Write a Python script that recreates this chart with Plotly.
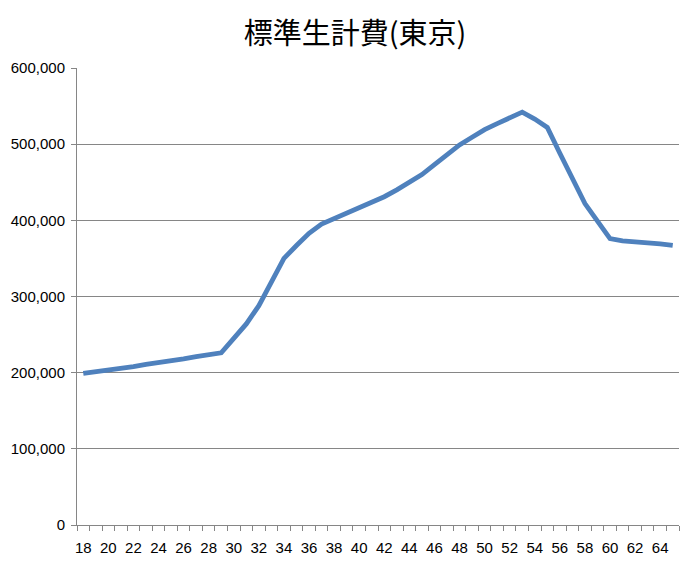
import plotly.graph_objects as go

ages = list(range(18, 66))
cost = [199000, 201000, 203000, 206000, 208000, 211000, 213000, 216000, 218000, 221000,
        223000, 226000, 245000, 264000, 288000, 319000, 350000, 367000, 383000, 395000,
        402000, 409000, 415500, 423000, 431000, 440000, 450000, 460000, 473000, 486000,
        499000, 509000, 519000, 527000, 535000, 542000, 533000, 522000, 488000, 455000,
        422000, 399000, 376000, 373000, 372000, 370000, 369000, 367000]

x_tickvals = list(range(18, 65, 2))
y_tickvals = list(range(0, 600001, 100000))
y_ticktext = [f"{v:,}" for v in y_tickvals]

fig = go.Figure()
fig.add_trace(go.Scatter(x=ages, y=cost, mode="lines",
                         line=dict(color="#4F81BD", width=4.8), hoverinfo="x+y"))

fig.update_layout(
    width=694, height=564,
    margin=dict(l=69, r=23, t=60, b=47, autoexpand=False),
    paper_bgcolor="white", plot_bgcolor="white",
    showlegend=False,
    title=dict(text="標準生計費(東京)", x=0.5, xanchor="center", y=0.955, yanchor="middle",
               font=dict(family="Noto Sans CJK JP", size=29, color="black")),
    font=dict(family="Liberation Sans", size=15, color="black"),
)
fig.update_xaxes(range=[17.5, 65.5], tickmode="array", tickvals=x_tickvals,
                 ticks="", showgrid=False, zeroline=False, automargin=False,
                 showline=True, linecolor="#868686", linewidth=1,
                 ticklabelstandoff=9,
                 tickfont=dict(size=15, color="black"),
                 minor=dict(ticks="outside", tick0=17.5, dtick=1, ticklen=5,
                            tickcolor="#868686", tickwidth=1, showgrid=False))
fig.update_yaxes(range=[0, 600000], tickmode="array", tickvals=y_tickvals, ticktext=y_ticktext,
                 ticks="outside", ticklen=5, tickcolor="#868686", automargin=False,
                 ticklabelstandoff=3,
                 showgrid=True, gridcolor="#868686", gridwidth=1, zeroline=False,
                 showline=True, linecolor="#868686", linewidth=1,
                 tickfont=dict(size=15, color="black"))

fig.write_html("out.html")
